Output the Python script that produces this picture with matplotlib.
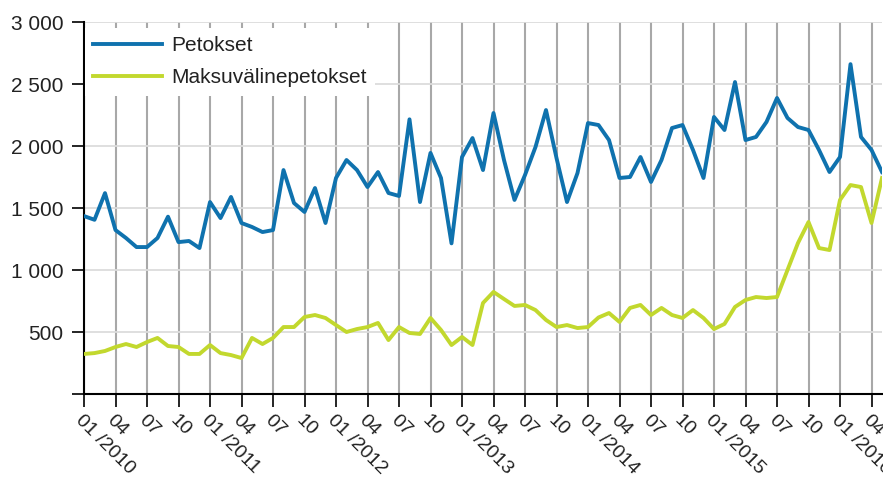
import matplotlib
matplotlib.use("Agg")
import matplotlib.pyplot as plt
from matplotlib.transforms import ScaledTranslation
import numpy as np

# Monthly values, 01/2010 .. 05/2016
petokset = [1435, 1405, 1620, 1322, 1258, 1185, 1185, 1258, 1430, 1225,
            1234, 1177, 1548, 1419, 1589, 1379, 1347, 1306, 1322, 1806,
            1540, 1468, 1661, 1379, 1742, 1887, 1806, 1669, 1790, 1621,
            1597, 2215, 1548, 1944, 1742, 1215, 1911, 2064, 1806, 2266,
            1887, 1565, 1766, 1992, 2290, 1903, 1548, 1782, 2185, 2169,
            2048, 1742, 1750, 1911, 1710, 1887, 2145, 2169, 1968, 1742,
            2234, 2129, 2516, 2048, 2073, 2194, 2387, 2226, 2153, 2129,
            1968, 1790, 1911, 2660, 2073, 1968, 1790]
maksuvaline = [323, 330, 347, 379, 403, 379, 419, 452, 387, 379,
               323, 323, 395, 330, 314, 290, 452, 403, 452, 540,
               540, 621, 637, 613, 556, 500, 524, 540, 573, 435,
               540, 492, 484, 613, 516, 395, 460, 395, 734, 823,
               766, 710, 718, 677, 597, 540, 556, 532, 540, 617,
               653, 581, 694, 718, 637, 694, 637, 613, 677, 613,
               524, 565, 702, 758, 782, 774, 782, 1000, 1218, 1387,
               1177, 1161, 1565, 1685, 1669, 1379, 1742]
series_names = ["Petokset", "Maksuvälinepetokset"]
years = [2010, 2011, 2012, 2013, 2014, 2015, 2016]
y_ticks = [0, 500, 1000, 1500, 2000, 2500, 3000]

blue = "#0f72ae"
green = "#c2d82e"
fs = 15

plt.rcParams['font.family'] = ['Liberation Sans', 'DejaVu Sans']

x = np.arange(len(petokset))

fig = plt.figure(figsize=(8.83, 4.8), dpi=100)
ax = fig.add_axes([84 / 883, 86 / 480, 798 / 883, 372 / 480])

ax.plot(x, petokset, color=blue, lw=2.8, label=series_names[0], zorder=3)
ax.plot(x, maksuvaline, color=green, lw=2.8, label=series_names[1], zorder=3)

ax.set_xlim(0, 76)
ax.set_ylim(0, 3000)

# quarterly x ticks
qticks = list(range(0, 76, 3))
qlabels = []
for t in qticks:
    m = t % 12 + 1
    if m == 1:
        qlabels.append("01 /%d" % years[t // 12])
    else:
        qlabels.append("%02d" % m)
ax.set_xticks(qticks)
ax.set_xticklabels(qlabels, rotation=-45, ha="left", va="top",
                   rotation_mode="anchor", fontsize=14, color="#222222")
shift = ScaledTranslation(-10 / 100, -3 / 100, fig.dpi_scale_trans)
for lab in ax.get_xticklabels():
    lab.set_transform(lab.get_transform() + shift)

ax.set_yticks(y_ticks)
ax.set_yticklabels(["" if v == 0 else f"{v:,}".replace(",", " ") for v in y_ticks],
                   fontsize=fs, color="#222222")

ax.tick_params(axis="both", direction="out", length=9, width=1.2, color="black")
ax.tick_params(axis="y", pad=6)
ax.tick_params(axis="x", pad=4)

ax.grid(axis="y", color="#dcdcdc", lw=1.3, zorder=0)
ax.grid(axis="x", color="#a8a8a8", lw=1.5, zorder=0)
ax.set_axisbelow(True)

for s in ["top", "right"]:
    ax.spines[s].set_visible(False)
for s in ["left", "bottom"]:
    ax.spines[s].set_linewidth(1.5)
    ax.spines[s].set_color("black")

leg = ax.legend(loc="upper left", bbox_to_anchor=(0.001, 0.985),
                frameon=True, fancybox=False, framealpha=1,
                edgecolor="white", facecolor="white",
                handlelength=3.3, handletextpad=0.45, labelspacing=0.65,
                borderaxespad=0, borderpad=0.4,
                prop={"family": "Liberation Sans", "size": fs})
leg.get_frame().set_linewidth(0)
leg.set_zorder(4)
for t in leg.get_texts():
    t.set_color("#222222")

fig.savefig("out.png", dpi=100, facecolor="white")
